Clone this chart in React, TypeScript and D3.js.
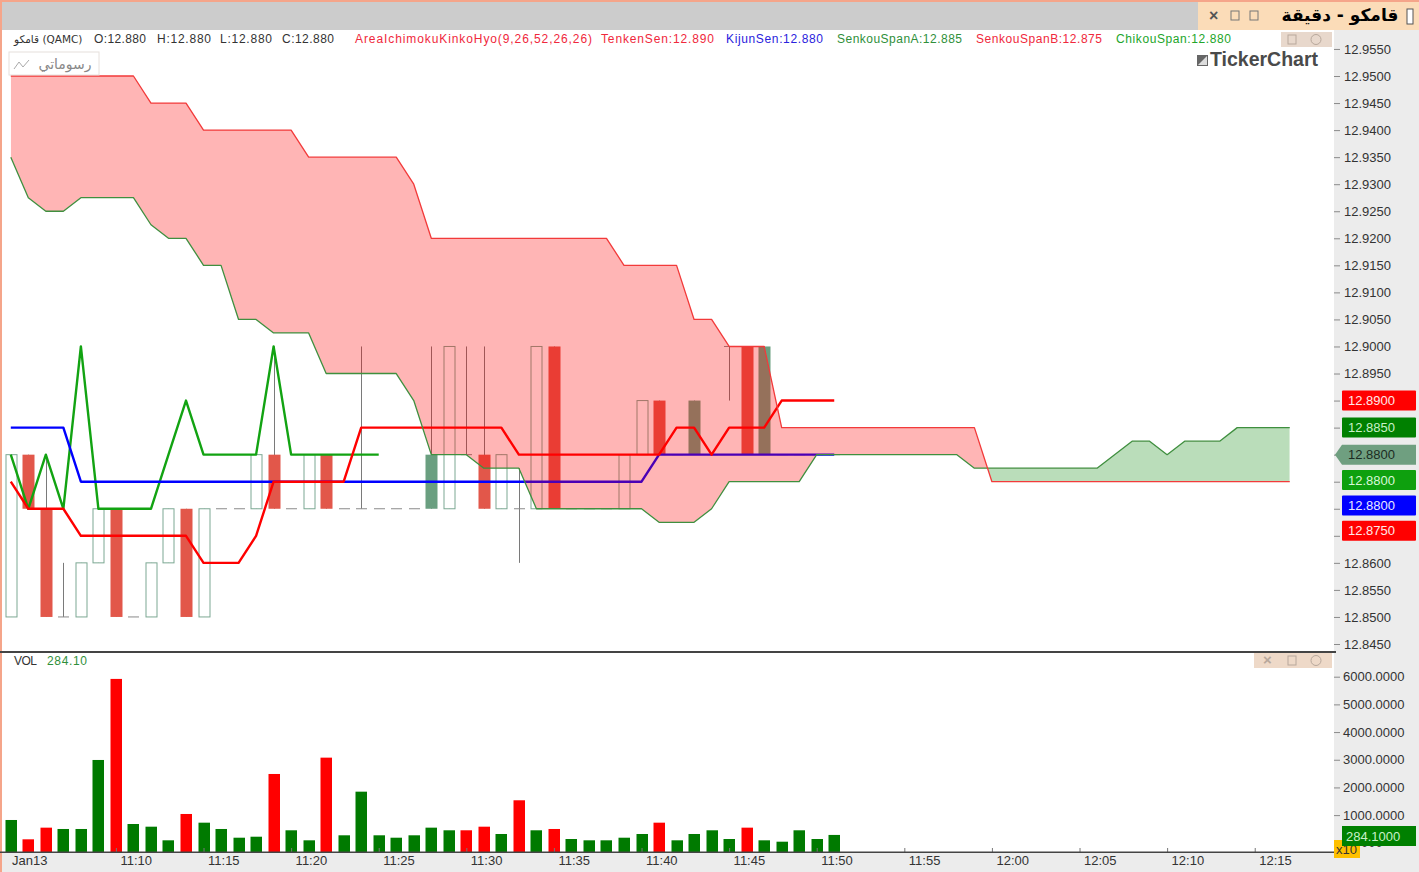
import { useEffect, useRef } from 'react'
import * as d3 from 'd3'

const priceTicks = [
  12.955, 12.95, 12.945, 12.94, 12.935, 12.93, 12.925, 12.92, 12.915, 12.91, 12.905, 12.9,
  12.895, 12.89, 12.885, 12.88, 12.875, 12.87, 12.865, 12.86, 12.855, 12.85, 12.845,
]
// these labels sit behind the price tags, only their tick marks show
const coveredPriceTicks = [12.89, 12.885, 12.88, 12.875, 12.87, 12.865]
const volumeTicks = [0, 1000, 2000, 3000, 4000, 5000, 6000]

const timeLabels = [
  '11:10', '11:15', '11:20', '11:25', '11:30', '11:35', '11:40', '11:45', '11:50',
  '11:55', '12:00', '12:05', '12:10', '12:15',
]
const timeTickBars = [6, 11, 16, 21, 26, 31, 36, 41, 46, 51, 56, 61, 66, 71]

const opens = [
  12.85, 12.88, 12.87, 12.85, 12.85, 12.86, 12.87, 12.85, 12.85, 12.86, 12.87, 12.85,
  12.87, 12.87, 12.87, 12.88, 12.87, 12.87, 12.88, 12.87, 12.87, 12.87, 12.87, 12.87,
  12.88, 12.87, 12.88, 12.88, 12.87, 12.87, 12.87, 12.9, 12.87, 12.87, 12.87, 12.87,
  12.88, 12.89, 12.88, 12.89, 12.88, 12.9, 12.9, 12.9, 12.88, 12.88, 12.88, 12.88,
]
const highs = [
  12.88, 12.88, 12.88, 12.86, 12.86, 12.87, 12.87, 12.85, 12.86, 12.87, 12.87, 12.87,
  12.87, 12.87, 12.88, 12.9, 12.87, 12.88, 12.88, 12.87, 12.9, 12.87, 12.87, 12.87,
  12.9, 12.9, 12.9, 12.9, 12.88, 12.8775, 12.9, 12.9, 12.87, 12.87, 12.87, 12.88,
  12.89, 12.89, 12.88, 12.89, 12.88, 12.9, 12.9, 12.9, 12.88, 12.88, 12.88, 12.88,
]
const lows = [
  12.85, 12.87, 12.85, 12.85, 12.85, 12.86, 12.85, 12.85, 12.85, 12.86, 12.85, 12.85,
  12.87, 12.87, 12.87, 12.87, 12.87, 12.87, 12.87, 12.87, 12.87, 12.87, 12.87, 12.87,
  12.87, 12.87, 12.88, 12.87, 12.87, 12.86, 12.87, 12.87, 12.87, 12.87, 12.87, 12.87,
  12.88, 12.88, 12.88, 12.88, 12.88, 12.89, 12.88, 12.88, 12.88, 12.88, 12.88, 12.88,
]
const closes = [
  12.88, 12.87, 12.85, 12.85, 12.86, 12.87, 12.85, 12.85, 12.86, 12.87, 12.85, 12.87,
  12.87, 12.87, 12.88, 12.87, 12.87, 12.88, 12.87, 12.87, 12.87, 12.87, 12.87, 12.87,
  12.87, 12.9, 12.88, 12.87, 12.88, 12.87, 12.9, 12.87, 12.87, 12.87, 12.87, 12.88,
  12.89, 12.88, 12.88, 12.88, 12.88, 12.9, 12.88, 12.88, 12.88, 12.88, 12.88, 12.88,
]
// falling bars the platform still paints green
const solidGreenBars = [24, 39, 43]

const tenkenSen = [
  12.875, 12.87, 12.87, 12.87, 12.865, 12.865, 12.865, 12.865, 12.865, 12.865, 12.865, 12.86,
  12.86, 12.86, 12.865, 12.875, 12.875, 12.875, 12.875, 12.875, 12.885, 12.885, 12.885, 12.885,
  12.885, 12.885, 12.885, 12.885, 12.885, 12.88, 12.88, 12.88, 12.88, 12.88, 12.88, 12.88,
  12.88, 12.88, 12.885, 12.885, 12.88, 12.885, 12.885, 12.885, 12.89, 12.89, 12.89, 12.89,
]
const kijunSen = [
  12.885, 12.885, 12.885, 12.885, 12.875, 12.875, 12.875, 12.875, 12.875, 12.875, 12.875, 12.875,
  12.875, 12.875, 12.875, 12.875, 12.875, 12.875, 12.875, 12.875, 12.875, 12.875, 12.875, 12.875,
  12.875, 12.875, 12.875, 12.875, 12.875, 12.875, 12.875, 12.875, 12.875, 12.875, 12.875, 12.875,
  12.875, 12.88, 12.88, 12.88, 12.88, 12.88, 12.88, 12.88, 12.88, 12.88, 12.88, 12.88,
]
const chikouSpan = [
  12.88, 12.87, 12.88, 12.87, 12.9, 12.87, 12.87, 12.87, 12.87, 12.88, 12.89, 12.88,
  12.88, 12.88, 12.88, 12.9, 12.88, 12.88, 12.88, 12.88, 12.88, 12.88,
]
const senkouSpanA = [
  12.935, 12.9275, 12.925, 12.925, 12.9275, 12.9275, 12.9275, 12.9275, 12.9225, 12.92, 12.92, 12.915,
  12.915, 12.905, 12.905, 12.9025, 12.9025, 12.9025, 12.895, 12.895, 12.895, 12.895, 12.895, 12.89,
  12.88, 12.88, 12.88, 12.8775, 12.8775, 12.8775, 12.87, 12.87, 12.87, 12.87, 12.87, 12.87,
  12.87, 12.8675, 12.8675, 12.8675, 12.87, 12.875, 12.875, 12.875, 12.875, 12.875, 12.88, 12.88,
  12.88, 12.88, 12.88, 12.88, 12.88, 12.88, 12.88, 12.8775, 12.8775, 12.8775, 12.8775, 12.8775,
  12.8775, 12.8775, 12.8775, 12.88, 12.8825, 12.8825, 12.88, 12.8825, 12.8825, 12.8825, 12.885, 12.885,
  12.885, 12.885,
]
const senkouSpanB = [
  12.95, 12.95, 12.95, 12.95, 12.95, 12.95, 12.95, 12.95, 12.945, 12.945, 12.945, 12.94,
  12.94, 12.94, 12.94, 12.94, 12.94, 12.935, 12.935, 12.935, 12.935, 12.935, 12.935, 12.93,
  12.92, 12.92, 12.92, 12.92, 12.92, 12.92, 12.92, 12.92, 12.92, 12.92, 12.92, 12.915,
  12.915, 12.915, 12.915, 12.905, 12.905, 12.9, 12.9, 12.9, 12.885, 12.885, 12.885, 12.885,
  12.885, 12.885, 12.885, 12.885, 12.885, 12.885, 12.885, 12.885, 12.875, 12.875, 12.875, 12.875,
  12.875, 12.875, 12.875, 12.875, 12.875, 12.875, 12.875, 12.875, 12.875, 12.875, 12.875, 12.875,
  12.875, 12.875,
]

const volumes = [
  824, 126, 547, 499, 499, 2992, 5920, 679, 582, 90, 1041, 727,
  499, 184, 220, 2486, 452, 90, 3076, 271, 1847, 271, 184, 271,
  547, 452, 452, 582, 318, 1536, 452, 499, 137, 90, 90, 184,
  318, 727, 90, 318, 452, 137, 547, 90, 40, 452, 137, 284.1,
]
const redVolumeBars = [1, 2, 6, 10, 15, 18, 26, 27, 29, 31, 37, 42]

const ohlcLegend = ['O:12.880', 'H:12.880', 'L:12.880', 'C:12.880']
const ohlcLegendX = [94, 157, 220, 282]
const ohlcLegendW = [52, 54, 52, 52]

const indicatorLegend = [
  'AreaIchimokuKinkoHyo(9,26,52,26,26)',
  'TenkenSen:12.890',
  'KijunSen:12.880',
  'SenkouSpanA:12.885',
  'SenkouSpanB:12.875',
  'ChikouSpan:12.880',
]
const indicatorLegendX = [355, 601, 726, 837, 976, 1116]
const indicatorLegendW = [237, 113, 97, 125, 126, 115]
const indicatorLegendColors = ['#f0283c', '#f0283c', '#2a22dd', '#2f8f3a', '#f0283c', '#22a52a']

const priceTagValues = [12.89, 12.885, 12.88, 12.88, 12.88, 12.875]
const priceTagFills = ['#ff0000', '#008000', '#6f9f80', '#0ea00e', '#0000ff', '#ff0000']
const priceTagText = ['#ffe8e8', '#c8f0c8', '#1c2c22', '#d8f8d8', '#e8e8ff', '#ffe8e8']

const WIDTH = 1419
const HEIGHT = 872
const AXIS_X = 1334
const VOL_BASE = 852
const BAR_W = 11
const FONT = '"Liberation Sans", Arial, sans-serif'

export default function App() {
  const svgRef = useRef<SVGSVGElement>(null)

  useEffect(() => {
    const svgEl = svgRef.current
    if (!svgEl) return

    const x = d3.scaleLinear().domain([0, 73]).range([10.8, 10.8 + 73 * 17.52])
    const y = d3.scaleLinear().domain([12.95, 12.845]).range([76, 644])
    const yVol = d3.scaleLinear().domain([0, 6000]).range([842.8, 676.7])

    const svg = d3.select(svgEl)
    svg.selectAll('*').remove()
    svg.style('font-family', FONT)

    // Window chrome
    svg.append('rect').attr('width', WIDTH).attr('height', HEIGHT).attr('fill', '#ffffff')
    svg.append('rect').attr('x', AXIS_X).attr('y', 30).attr('width', WIDTH - AXIS_X).attr('height', HEIGHT - 30).attr('fill', '#ececec')
    svg.append('rect').attr('y', 853).attr('width', WIDTH).attr('height', HEIGHT - 853).attr('fill', '#ececec')
    svg.append('rect').attr('width', WIDTH).attr('height', 30).attr('fill', '#cccccc')
    svg.append('rect').attr('x', 1198).attr('y', 2).attr('width', 221).attr('height', 28).attr('fill', '#fbdcb8')
    svg.append('rect').attr('width', WIDTH).attr('height', 2).attr('fill', '#f5a58a')
    svg.append('rect').attr('width', 2).attr('height', HEIGHT).attr('fill', '#f5a58a')

    const bars = d3.range(opens.length)

    // Candles
    const candles = svg.append('g')
    bars.forEach(i => {
      const cx = Math.round(x(i)) + 0.5
      candles.append('line')
        .attr('x1', cx).attr('x2', cx)
        .attr('y1', y(highs[i])).attr('y2', y(lows[i]))
        .attr('stroke', '#7a7a7a')
      const top = y(Math.max(opens[i], closes[i]))
      const bot = y(Math.min(opens[i], closes[i]))
      if (opens[i] === closes[i]) {
        candles.append('line')
          .attr('x1', cx - BAR_W / 2).attr('x2', cx + BAR_W / 2)
          .attr('y1', top).attr('y2', top)
          .attr('stroke', '#8a8a8a')
      } else if (closes[i] > opens[i]) {
        candles.append('rect')
          .attr('x', cx - BAR_W / 2).attr('width', BAR_W)
          .attr('y', top).attr('height', bot - top)
          .attr('fill', '#ffffff').attr('stroke', '#7ca893')
      } else {
        candles.append('rect')
          .attr('x', cx - BAR_W / 2 - 0.5).attr('width', BAR_W + 1)
          .attr('y', top).attr('height', bot - top)
          .attr('fill', solidGreenBars.includes(i) ? '#6a9f80' : '#e2574a')
      }
    })

    // Ichimoku lines sit under the cloud, the blue one turns purple inside it
    const line = d3.line<number>().x((_, i) => x(i)).y(d => y(d))
    const drawLine = (values: number[], color: string, width: number) => {
      svg.append('path')
        .datum(values)
        .attr('fill', 'none')
        .attr('stroke', color)
        .attr('stroke-width', width)
        .attr('stroke-linejoin', 'round')
        .attr('d', line)
    }
    drawLine(chikouSpan, '#12a312', 2.4)
    drawLine(kijunSen, '#0000ff', 2.4)
    drawLine(tenkenSen, '#ff0000', 2.4)

    // Cloud: same band twice, clipped on either side of span A
    const cloudIdx = d3.range(senkouSpanA.length)
    const defs = svg.append('defs')
    const clipArea = (edge: number) =>
      d3.area<number>().x(i => x(i)).y0(edge).y1(i => y(senkouSpanA[i]))
    defs.append('clipPath').attr('id', 'above-a').append('path').attr('d', clipArea(0)(cloudIdx))
    defs.append('clipPath').attr('id', 'below-a').append('path').attr('d', clipArea(HEIGHT)(cloudIdx))
    const band = d3.area<number>().x(i => x(i)).y0(i => y(senkouSpanA[i])).y1(i => y(senkouSpanB[i]))
    svg.append('path').attr('d', band(cloudIdx)).attr('fill', '#ff0000').attr('fill-opacity', 0.29).attr('clip-path', 'url(#above-a)')
    svg.append('path').attr('d', band(cloudIdx)).attr('fill', '#008000').attr('fill-opacity', 0.27).attr('clip-path', 'url(#below-a)')
    drawLine(senkouSpanA, '#3f8f3f', 1.3)
    drawLine(senkouSpanB, '#f23a3a', 1.3)

    // Volume
    bars.forEach(i => {
      svg.append('rect')
        .attr('x', Math.round(x(i)) - BAR_W / 2)
        .attr('width', BAR_W + 0.5)
        .attr('y', yVol(volumes[i]))
        .attr('height', VOL_BASE - yVol(volumes[i]))
        .attr('fill', redVolumeBars.includes(i) ? '#ff0000' : '#007a00')
    })

    // Right axes
    const styleAxis = (g: d3.Selection<SVGGElement, unknown, null, undefined>) => {
      g.select('.domain').remove()
      g.selectAll('.tick line').attr('stroke', '#8a8a8a')
      g.selectAll('.tick text')
        .attr('fill', '#333333')
        .style('font-size', '13px')
        .style('font-family', FONT)
    }
    svg.append('g')
      .attr('transform', `translate(${AXIS_X},0)`)
      .call(d3.axisRight(y).tickValues(priceTicks).tickSize(6).tickPadding(4)
        .tickFormat(d => (coveredPriceTicks.includes(d as number) ? '' : (d as number).toFixed(4))))
      .call(styleAxis)
    svg.append('g')
      .attr('transform', `translate(${AXIS_X},0)`)
      .call(d3.axisRight(yVol).tickValues(volumeTicks).tickSize(6).tickPadding(3).tickFormat(d => (d as number).toFixed(4)))
      .call(styleAxis)

    // Time axis
    svg.append('g')
      .attr('transform', `translate(0,${VOL_BASE})`)
      .call(d3.axisBottom(x).tickValues(timeTickBars).tickSize(-4).tickPadding(0).tickFormat((_, i) => timeLabels[i]))
      .call(g => {
        g.select('.domain').remove()
        g.selectAll('.tick line').attr('stroke', '#777777')
        g.selectAll('.tick text')
          .attr('text-anchor', 'start')
          .attr('x', 4)
          .attr('y', 4)
          .attr('dy', '0.71em')
          .attr('fill', '#333333')
          .style('font-size', '13px')
          .style('font-family', FONT)
      })
    svg.append('text').attr('x', 12).attr('y', 865).attr('fill', '#333333').style('font-size', '13px').text('Jan13')

    // Pane separators
    svg.append('rect').attr('y', 651).attr('width', AXIS_X).attr('height', 2).attr('fill', '#444444')
    svg.append('rect').attr('y', VOL_BASE - 0.5).attr('width', AXIS_X).attr('height', 1.5).attr('fill', '#444444')
    svg.append('rect').attr('x', AXIS_X).attr('y', 651).attr('width', 2).attr('height', 2).attr('fill', '#444444')

    // Price tags on the axis, pushed down so they do not overlap
    let prevY = -Infinity
    priceTagValues.forEach((v, i) => {
      const cy = Math.max(y(v), prevY + 25.4)
      prevY = cy
      if (i === 2) {
        svg.append('path')
          .attr('d', `M1335,${cy} L1342,${cy - 10} H1416 V${cy + 10} H1342 Z`)
          .attr('fill', priceTagFills[i])
      } else {
        svg.append('rect')
          .attr('x', 1342).attr('y', cy - 10)
          .attr('width', 74).attr('height', 20)
          .attr('rx', 1)
          .attr('fill', priceTagFills[i])
      }
      svg.append('text')
        .attr('x', 1348).attr('y', cy + 4.6)
        .attr('fill', priceTagText[i])
        .style('font-size', '13px')
        .text(v.toFixed(4))
    })

    // Volume tag
    svg.append('rect').attr('x', 1334).attr('y', 840).attr('width', 26).attr('height', 18).attr('fill', '#ffc000')
    svg.append('text').attr('x', 1336).attr('y', 854).attr('fill', '#333333').style('font-size', '13px').text('x10')
    svg.append('rect').attr('x', 1342).attr('y', 826).attr('width', 74).attr('height', 20).attr('fill', '#008000')
    svg.append('text').attr('x', 1346).attr('y', 840.5).attr('fill', '#c8f0c8').style('font-size', '13px').text('284.1000')

    // Legends
    const legendText = (label: string, lx: number, w: number, color: string, ly = 43) => {
      svg.append('text')
        .attr('x', lx).attr('y', ly)
        .attr('textLength', w)
        .attr('fill', color)
        .style('font-size', '12px')
        .text(label)
    }
    svg.append('text').attr('x', 14).attr('y', 43).attr('fill', '#333333').style('font-size', '10.5px').style('font-family', '"DejaVu Sans"').text('قامكو (QAMC)')
    ohlcLegend.forEach((t, i) => legendText(t, ohlcLegendX[i], ohlcLegendW[i], '#333333'))
    indicatorLegend.forEach((t, i) => legendText(t, indicatorLegendX[i], indicatorLegendW[i], indicatorLegendColors[i]))
    legendText('VOL', 14, 23, '#333333', 665)
    legendText('284.10', 47, 40, '#2f8f3a', 665)

    // Title bar
    svg.append('text')
      .attr('x', 1340).attr('y', 21)
      .attr('text-anchor', 'middle')
      .attr('direction', 'rtl')
      .attr('fill', '#000000')
      .style('font-size', '17px')
      .style('font-weight', 'bold')
      .style('font-family', '"DejaVu Sans"')
      .text('قامكو - دقيقة')
    svg.append('rect').attr('x', 1407).attr('y', 9).attr('width', 6).attr('height', 15).attr('fill', '#ffffff').attr('stroke', '#555555')
    svg.append('text').attr('x', 1209).attr('y', 21).attr('fill', '#555555').style('font-size', '16px').style('font-weight', 'bold').text('×')
    const smallBox = (bx: number, by: number, color: string) => {
      svg.append('rect').attr('x', bx).attr('y', by).attr('width', 8).attr('height', 9).attr('fill', 'none').attr('stroke', color)
    }
    smallBox(1231, 11, '#777777')
    smallBox(1250, 11, '#777777')

    // Pane widgets
    svg.append('rect').attr('x', 1281).attr('y', 32).attr('width', 51).attr('height', 15).attr('fill', '#e8d8cc')
    smallBox(1288, 35, '#b8a89c')
    svg.append('circle').attr('cx', 1316).attr('cy', 39.5).attr('r', 5).attr('fill', 'none').attr('stroke', '#b8a89c')
    svg.append('rect').attr('x', 1254).attr('y', 653).attr('width', 78).attr('height', 15).attr('fill', '#eed9c8')
    svg.append('text').attr('x', 1263).attr('y', 665).attr('fill', '#b8a89c').style('font-size', '15px').style('font-weight', 'bold').text('×')
    smallBox(1288, 656, '#b8a89c')
    svg.append('circle').attr('cx', 1316).attr('cy', 660.5).attr('r', 5).attr('fill', 'none').attr('stroke', '#b8a89c')

    // Watermark
    svg.append('rect').attr('x', 1197).attr('y', 55).attr('width', 11).attr('height', 11).attr('fill', '#666666')
    svg.append('path').attr('d', 'M1198,65 L1207,56 V65 Z').attr('fill', '#dddddd')
    svg.append('text').attr('x', 1210).attr('y', 66).attr('fill', '#4a4a4a').style('font-size', '19.5px').style('font-weight', 'bold').text('TickerChart')

    // Drawings button
    svg.append('rect').attr('x', 9).attr('y', 52).attr('width', 90).attr('height', 23).attr('fill', '#ffffff').attr('fill-opacity', 0.75).attr('stroke', '#e6e0dc')
    svg.append('path').attr('d', 'M14,69 L19,62 L23,67 L29,60').attr('fill', 'none').attr('stroke', '#aaaaaa')
    svg.append('text')
      .attr('x', 65).attr('y', 69)
      .attr('text-anchor', 'middle')
      .attr('direction', 'rtl')
      .attr('fill', '#888888')
      .style('font-size', '14px')
      .style('font-family', '"DejaVu Sans"')
      .text('رسوماتي')
  }, [])

  return <svg ref={svgRef} width={WIDTH} height={HEIGHT} style={{ position: 'fixed', left: 0, top: 0 }} />
}
